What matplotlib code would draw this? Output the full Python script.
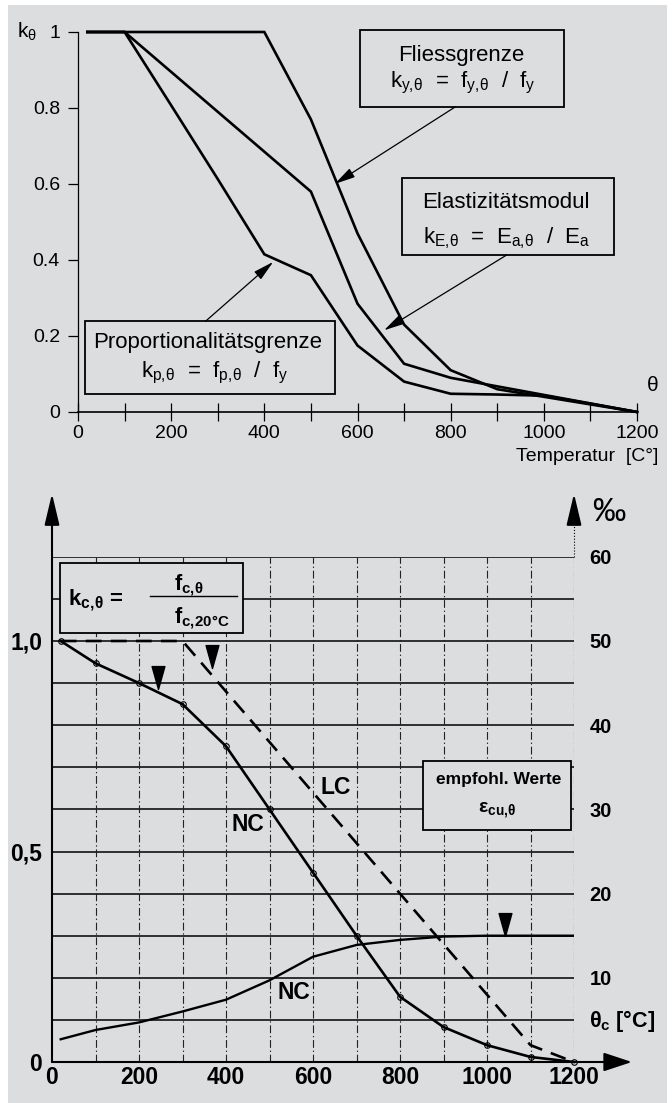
import numpy as np
import matplotlib
matplotlib.use("Agg")
import matplotlib.pyplot as plt
from matplotlib.patches import Rectangle
from matplotlib.path import Path

plt.rcParams['font.family'] = ['Liberation Sans', 'DejaVu Sans']
plt.rcParams['mathtext.fontset'] = 'custom'
plt.rcParams['mathtext.rm'] = 'Liberation Sans'
plt.rcParams['mathtext.it'] = 'Liberation Sans'
plt.rcParams['mathtext.bf'] = 'Liberation Sans:bold'

BG = '#dcdddf'

# --- steel: reduction factors (top chart)
temp_s = [20, 100, 200, 300, 400, 500, 600, 700, 800, 900, 1000, 1100, 1200]
k_y = [1.0, 1.0, 1.0, 1.0, 1.0, 0.77, 0.47, 0.23, 0.11, 0.06, 0.04, 0.02, 0.0]
k_E = [1.0, 1.0, 0.895, 0.79, 0.685, 0.58, 0.285, 0.127, 0.09, 0.0675, 0.045, 0.0225, 0.0]
k_p = [1.0, 1.0, 0.807, 0.613, 0.415, 0.36, 0.175, 0.08, 0.048, 0.046, 0.043, 0.022, 0.0]
top_xticks = [0, 200, 400, 600, 800, 1000, 1200]
top_yticks = [0, 0.2, 0.4, 0.6, 0.8, 1.0]
top_ylabels = ['0', '0.2', '0.4', '0.6', '0.8', '1']

# --- concrete (bottom chart)
temp_c = [20, 100, 200, 300, 400, 500, 600, 700, 800, 900, 1000, 1100, 1200]
kc_nc = [1.0, 0.947, 0.90, 0.85, 0.75, 0.60, 0.45, 0.30, 0.155, 0.083, 0.04, 0.012, 0.0]
temp_lc = [20, 300, 400, 500, 600, 700, 800, 900, 1000, 1100, 1200]
kc_lc = [1.0, 1.0, 0.88, 0.76, 0.64, 0.52, 0.40, 0.28, 0.16, 0.04, 0.0]
temp_eps = [20, 100, 200, 300, 400, 500, 600, 700, 800, 900, 1000, 1200]
eps_cu = [2.7, 3.8, 4.7, 6.0, 7.4, 9.7, 12.5, 13.9, 14.5, 14.9, 15.0, 15.0]   # per mille
tri_x = [244, 367, 1042]
tri_y = [0.886, 0.935, 0.30]
bot_xticks = [0, 200, 400, 600, 800, 1000, 1200]
bot_yticks = [0, 0.5, 1.0]
bot_ylabels = ['0', '0,5', '1,0']
eps_ticks = [10, 20, 30, 40, 50, 60]

W, H = 672, 1103
fig = plt.figure(figsize=(W / 100, H / 100), dpi=100)
fig.patch.set_facecolor('white')
fig.patches.append(Rectangle((8 / W, 0), (667 - 8) / W, 1 - 5 / H,
                             transform=fig.transFigure, facecolor=BG,
                             edgecolor='none', zorder=-10))

# ================= top chart =================
ax1 = fig.add_axes([78 / W, 1 - 412 / H, 559 / W, 380 / H])
ax1.set_facecolor('none')
ax1.set_xlim(0, 1200)
ax1.set_ylim(0, 1)
for s in ['top', 'right']:
    ax1.spines[s].set_visible(False)
ax1.spines['left'].set_linewidth(0.9)
ax1.spines['bottom'].set_linewidth(1.2)
ax1.set_xticks(top_xticks)
ax1.set_xticks(range(100, 1200, 200), minor=True)
ax1.set_yticks(top_yticks)
ax1.set_yticklabels(top_ylabels)
ax1.tick_params(axis='x', which='both', direction='inout', length=13, width=0.9,
                labelsize=14, pad=3)
ax1.tick_params(axis='y', direction='out', length=7, width=0.9, labelsize=14, pad=6)

for ky in (k_y, k_E, k_p):
    ax1.plot(temp_s, ky, color='k', lw=1.9, solid_joinstyle='miter', clip_on=False, zorder=2)

arrow_kw = dict(arrowstyle='-|>,head_length=0.9,head_width=0.22', mutation_scale=14,
                lw=0.9, color='k', shrinkA=0, shrinkB=0)

# box, text lines, arrow tail, arrow head
boxes = [
    ((606, 0.803), 437, 0.203, ['Fliessgrenze', r'$k_{y,\!\theta}$  =  $f_{y,\!\theta}$  /  $f_y$'],
     [(822, 0.939), (825, 0.866)], (810, 0.803), (551, 0.60)),
    ((696, 0.413), 455, 0.203, ['Elastizitätsmodul', r'$k_{E,\!\theta}$  =  $E_{a,\!\theta}$  /  $E_a$'],
     [(919, 0.55), (921, 0.456)], (920, 0.413), (657, 0.215)),
    ((15, 0.047), 537, 0.192, ['Proportionalitätsgrenze', r'$k_{p,\!\theta}$  =  $f_{p,\!\theta}$  /  $f_y$'],
     [(279, 0.182), (294, 0.103)], (274, 0.239), (419, 0.395)),
]
for xy, bw, bh, lines, pos, tail, head in boxes:
    ax1.add_patch(Rectangle(xy, bw, bh, facecolor=BG, edgecolor='k', lw=1.3,
                            clip_on=False, zorder=3))
    for t, p in zip(lines, pos):
        ax1.text(p[0], p[1], t, fontsize=16, ha='center', va='center', zorder=4)
    ax1.annotate('', xy=head, xytext=tail, arrowprops=arrow_kw, annotation_clip=False)

ax1.text(-109, 1.0, r'$k_\theta$', fontsize=15, ha='center', va='center')
ax1.text(1232, 0.071, r'$\theta$', fontsize=15, ha='center', va='center')
ax1.text(1245, -0.118, 'Temperatur  [C°]', fontsize=14, ha='right', va='center')

# ================= bottom chart =================
ax2 = fig.add_axes([52 / W, 1 - 1062 / H, 522 / W, 1.2 * 421 / H])
ax2.set_facecolor('none')
ax2.set_xlim(0, 1200)
ax2.set_ylim(0, 1.2)
for s in ax2.spines.values():
    s.set_visible(False)
ax2.set_xticks(bot_xticks)
ax2.set_yticks(bot_yticks)
ax2.set_yticklabels(bot_ylabels)
ax2.tick_params(axis='both', length=0, labelsize=16.5)
ax2.tick_params(axis='x', pad=3)
ax2.tick_params(axis='y', pad=7)
for lab in ax2.get_xticklabels() + ax2.get_yticklabels():
    lab.set_fontweight('bold')

sec = ax2.secondary_yaxis('right', functions=(lambda k: k * 50, lambda e: e / 50))
sec.set_yticks(eps_ticks)
sec.tick_params(length=0, labelsize=14.5, pad=11)
sec.spines['right'].set_visible(False)
for lab in sec.get_yticklabels():
    lab.set_fontweight('bold')

grid_k = [e / 50 for e in range(5, 65, 5)]
ax2.hlines(grid_k, 0, 1200, colors='#111111', lw=1.2, zorder=1)
ax2.vlines(range(100, 1300, 100), 0, 1.2, colors='#222222', lw=0.8,
           linestyles=[(0, (7, 2.5, 1.2, 2.5))], zorder=1)

ax_kw = dict(mutation_scale=12, lw=1.5, color='k', shrinkA=0, shrinkB=0)
ax2.annotate('', xy=(0, 1.35), xytext=(0, 0),
             arrowprops=dict(arrowstyle='-|>,head_length=1.6,head_width=0.38', **ax_kw),
             annotation_clip=False)
ax2.annotate('', xy=(1333, 0), xytext=(0, 0),
             arrowprops=dict(arrowstyle='-|>,head_length=1.45,head_width=0.48', **ax_kw),
             annotation_clip=False)
ax2.plot([1200, 1200], [1.2, 1.3], color='k', lw=0.8, ls=':', clip_on=False)
ax2.annotate('', xy=(1200, 1.35), xytext=(1200, 1.29),
             arrowprops=dict(arrowstyle='-|>,head_length=1.6,head_width=0.38', **ax_kw),
             annotation_clip=False)

ax2.plot(temp_c, kc_nc, color='k', lw=1.9, marker='o', ms=4, mfc='none', mec='k',
         mew=0.8, zorder=5, clip_on=False)
ax2.plot(temp_lc, kc_lc, color='k', lw=1.9, dashes=(6, 3.5), zorder=5, clip_on=False)
ax2.plot(temp_eps, np.array(eps_cu) / 50, color='k', lw=1.7, zorder=5)

tri = Path([(0, 0), (-0.28, 1), (0.28, 1), (0, 0)],
           [Path.MOVETO, Path.LINETO, Path.LINETO, Path.CLOSEPOLY])
ax2.plot(tri_x, tri_y, ls='none', marker=tri, ms=33, color='k', zorder=6)

ax2.text(653, 0.652, 'LC', fontsize=16.5, fontweight='bold', ha='center', va='center', zorder=6)
ax2.text(451, 0.565, 'NC', fontsize=16.5, fontweight='bold', ha='center', va='center', zorder=6)
ax2.text(555, 0.166, 'NC', fontsize=16.5, fontweight='bold', ha='center', va='center', zorder=6)

# formula box
ax2.add_patch(Rectangle((18, 1.019), 421, 0.166, facecolor=BG, edgecolor='k', lw=1.3,
                        zorder=7, clip_on=False))
ax2.text(37, 1.097, r'$\mathbf{k_{c,\!\theta}}$ =', fontsize=16, fontweight='bold',
         ha='left', va='center', zorder=8)
ax2.text(315, 1.133, r'$\mathbf{f_{c,\!\theta}}$', fontsize=15.5, ha='center', va='center', zorder=8)
ax2.plot([225, 425], [1.108, 1.108], color='k', lw=1.0, zorder=8)
ax2.text(345, 1.055, r'$\mathbf{f_{c,\!20°C}}$', fontsize=15.5, ha='center', va='center', zorder=8)

# recommended values box
ax2.add_patch(Rectangle((852, 0.55), 340, 0.166, facecolor=BG, edgecolor='k', lw=1.3,
                        zorder=7))
ax2.text(1026, 0.672, 'empfohl. Werte', fontsize=12.5, fontweight='bold',
         ha='center', va='center', zorder=8)
ax2.text(1024, 0.599, r'$\mathbf{\varepsilon_{cu,\!\theta}}$', fontsize=14,
         ha='center', va='center', zorder=8)

ax2.text(1234, 0.097, r'$\mathbf{\theta_c}$ [°C]', fontsize=15.5, fontweight='bold',
         ha='left', va='center')
ax2.text(1279, 1.305, '‰', fontsize=24, ha='center', va='center')

fig.savefig('out.png', dpi=100, facecolor=fig.get_facecolor())
